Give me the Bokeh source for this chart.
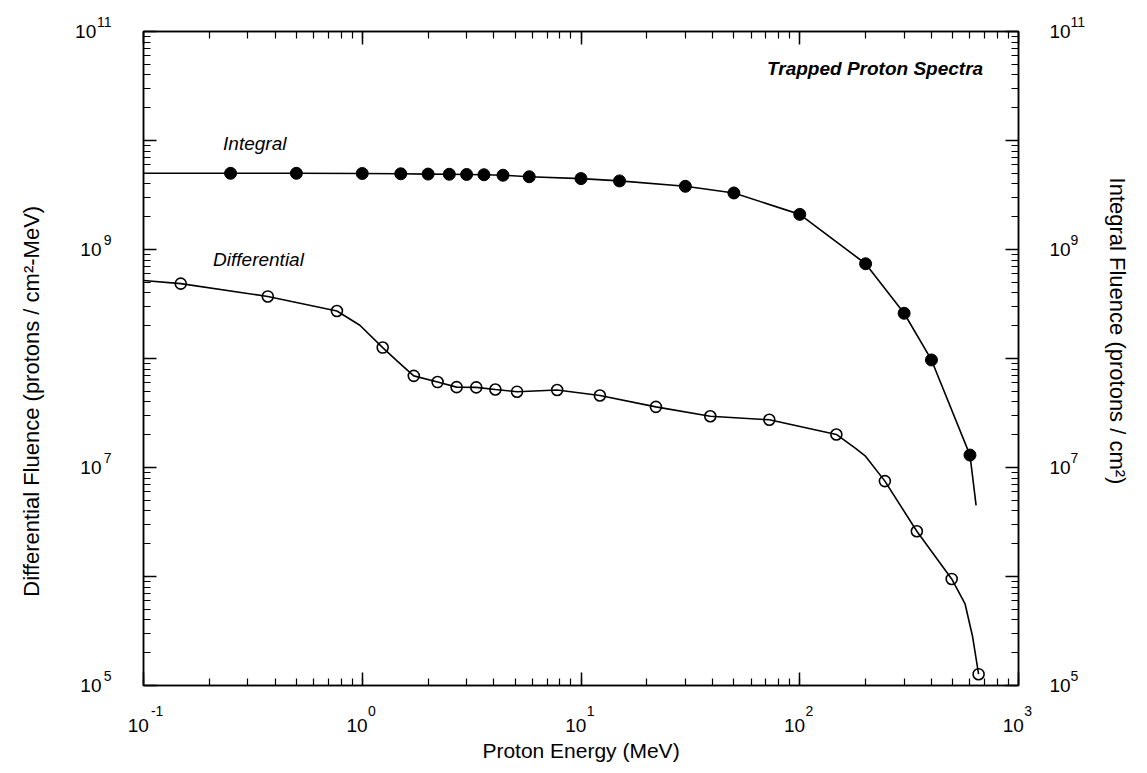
from bokeh.plotting import figure
from bokeh.models import LogAxis, LogTicker, CustomJSTickFormatter, Label, Range1d
from bokeh.embed import file_html
from bokeh.resources import INLINE

# ---- data ----
integral_energy = [0.25, 0.5, 1.0, 1.5, 2.0, 2.5, 3.0, 3.6, 4.4, 5.8, 10, 15, 30, 50, 100, 200, 300, 400, 600]
integral_fluence = [5.0e9, 5.0e9, 4.98e9, 4.95e9, 4.92e9, 4.9e9, 4.88e9, 4.85e9, 4.8e9, 4.65e9,
                    4.47e9, 4.26e9, 3.8e9, 3.3e9, 2.1e9, 7.4e8, 2.6e8, 9.7e7, 1.3e7]
integral_line_start = [0.1, 5.0e9]
integral_line_end = [640, 4.5e6]

diff_energy = [0.148, 0.37, 0.766, 1.24, 1.72, 2.21, 2.7, 3.32, 4.06, 5.1, 7.78,
               12.2, 22, 39, 72.6, 147, 245, 343, 495, 657]
diff_fluence = [4.86e8, 3.71e8, 2.73e8, 1.26e8, 6.93e7, 6.08e7, 5.46e7, 5.43e7, 5.2e7, 4.96e7, 5.14e7,
                4.58e7, 3.6e7, 2.95e7, 2.74e7, 2.01e7, 7.5e6, 2.6e6, 9.5e5, 1.27e5]
diff_line_start = [0.1, 5.2e8]
diff_curve_extra_energy = [0.975, 1.45, 180, 199, 570, 617]
diff_curve_extra_fluence = [2.02e8, 9.4e7, 1.5e7, 1.28e7, 5.6e5, 2.8e5]

FONT = "Liberation Sans"
NBSP = "\u00a0"

# build line paths
int_x = [integral_line_start[0]] + integral_energy + [integral_line_end[0]]
int_y = [integral_line_start[1]] + integral_fluence + [integral_line_end[1]]

d_pts = sorted(list(zip(diff_energy, diff_fluence)) +
               list(zip(diff_curve_extra_energy, diff_curve_extra_fluence)))
dif_x = [diff_line_start[0]] + [q[0] for q in d_pts]
dif_y = [diff_line_start[1]] + [q[1] for q in d_pts]

XMIN, XMAX, YMIN, YMAX = 0.1, 1000, 1e5, 1e11

p = figure(width=1147, height=773, x_axis_type="log", y_axis_type="log",
           x_range=Range1d(XMIN, XMAX), y_range=Range1d(YMIN, YMAX),
           output_backend="svg", toolbar_location=None,
           min_border_left=143, min_border_right=129, min_border_top=31, min_border_bottom=88)
p.xgrid.visible = False
p.ygrid.visible = False
p.outline_line_color = "black"
p.outline_line_width = 1.5
p.background_fill_color = "white"
p.border_fill_color = "white"

# formatter snippets (the "10^e" tick labels are split over two stacked axes)
HEAD = """
const e = Math.round(Math.log10(tick));
if (odd_only && Math.abs(e) % 2 == 0) return "";
const s = String(e);
"""
X_EXP = HEAD + 'return "\\u2007".repeat(s.length + 1) + "\\u00a0" + s;'
X_TEN = HEAD + 'return "10\\u2007";'
L_EXP = HEAD + 'return s + "\\n\\u00a0";'
L_TEN = HEAD + 'return "10" + "\\u00a0".repeat(s.length - 1);'
R_TEN = HEAD + 'return "10";'
R_EXP = HEAD + 'return s + "\\n\\u00a0";'


def make_axis(ax, ndec, code, size, odd_only, ticks):
    ax.ticker = LogTicker(desired_num_ticks=ndec, num_minor_ticks=10)
    ax.formatter = CustomJSTickFormatter(code=code, args=dict(odd_only=odd_only))
    ax.major_label_text_font_size = size
    ax.major_label_text_font = FONT
    ax.major_label_text_color = "black"
    ax.major_label_orientation = "horizontal"
    if ticks:
        ax.axis_line_width = 1.5
        ax.major_tick_in = 13
        ax.major_tick_out = 0
        ax.minor_tick_in = 7
        ax.minor_tick_out = 0
        ax.major_tick_line_width = 1.5
        ax.minor_tick_line_width = 1.2
    else:
        ax.axis_line_color = None
        ax.major_tick_line_color = None
        ax.minor_tick_line_color = None
        ax.major_tick_in = 0
        ax.major_tick_out = 0
        ax.minor_tick_in = 0
        ax.minor_tick_out = 0
    ax.axis_label_text_font = FONT
    ax.axis_label_text_font_style = "normal"
    ax.axis_label_text_color = "black"


# ---- bottom: inner axis = exponents (with ticks), outer axis = "10" ----
xb_exp = p.xaxis[0]
make_axis(xb_exp, 5, X_EXP, "14px", False, True)
xb_exp.major_label_standoff = 17

xb_ten = LogAxis()
make_axis(xb_ten, 5, X_TEN, "19px", False, False)
xb_ten.major_label_standoff = -7
xb_ten.axis_label = "Proton Energy (MeV)"
xb_ten.axis_label_text_font_size = "21px"
xb_ten.axis_label_standoff = 0
p.add_layout(xb_ten, "below")

# ---- left: inner axis = exponents (with ticks), outer axis = "10" ----
yl_exp = p.yaxis[0]
make_axis(yl_exp, 7, L_EXP, "14px", True, True)
yl_exp.major_label_standoff = 32

yl_ten = LogAxis()
make_axis(yl_ten, 7, L_TEN, "19px", True, False)
yl_ten.major_label_standoff = -8
# trailing blanks move the (bottom-to-top) label down, as in the original
yl_ten.axis_label = "Differential Fluence (protons / cm\u00b2-MeV)" + NBSP * 14
yl_ten.axis_label_text_font_size = "22px"
yl_ten.axis_label_standoff = 28
p.add_layout(yl_ten, "left")

# ---- top: ticks only ----
top = LogAxis()
make_axis(top, 5, 'return "";', "0px", False, True)
top.major_label_standoff = 0
p.add_layout(top, "above")

# ---- right: inner axis = "10" (with ticks), outer axis = exponents ----
yr_ten = LogAxis()
make_axis(yr_ten, 7, R_TEN, "19px", True, True)
yr_ten.major_label_standoff = 31
p.add_layout(yr_ten, "right")

yr_exp = LogAxis(axis_label="Integral Fluence (protons / cm\u00b2)" + NBSP * 9)
make_axis(yr_exp, 7, R_EXP, "14px", True, False)
yr_exp.major_label_standoff = -3
yr_exp.axis_label_text_font_size = "22px"
yr_exp.axis_label_standoff = 17
p.add_layout(yr_exp, "right")

# ---- curves ----
p.line(int_x, int_y, line_color="black", line_width=1.6)
p.line(dif_x, dif_y, line_color="black", line_width=1.6)
p.scatter(integral_energy, integral_fluence, marker="circle", size=12,
          fill_color="black", line_color="black")
p.scatter(diff_energy, diff_fluence, marker="circle", size=11,
          fill_color=None, line_color="black", line_width=1.6)


# ---- text labels ----
def add_lbl(**kw):
    p.add_layout(Label(text_font=FONT, text_color="black", **kw))


add_lbl(x=770, y=4.6e10, text="Trapped  Proton  Spectra", text_font_size="19px",
        text_font_style="bold italic", text_align="right", text_baseline="middle")
add_lbl(x=0.231, y=9.3e9, text="Integral", text_font_size="19px", text_font_style="italic",
        text_align="left", text_baseline="middle")
add_lbl(x=0.208, y=8.1e8, text="Differential", text_font_size="19px", text_font_style="italic",
        text_align="left", text_baseline="middle")

open("out.html", "w").write(file_html(p, INLINE))
